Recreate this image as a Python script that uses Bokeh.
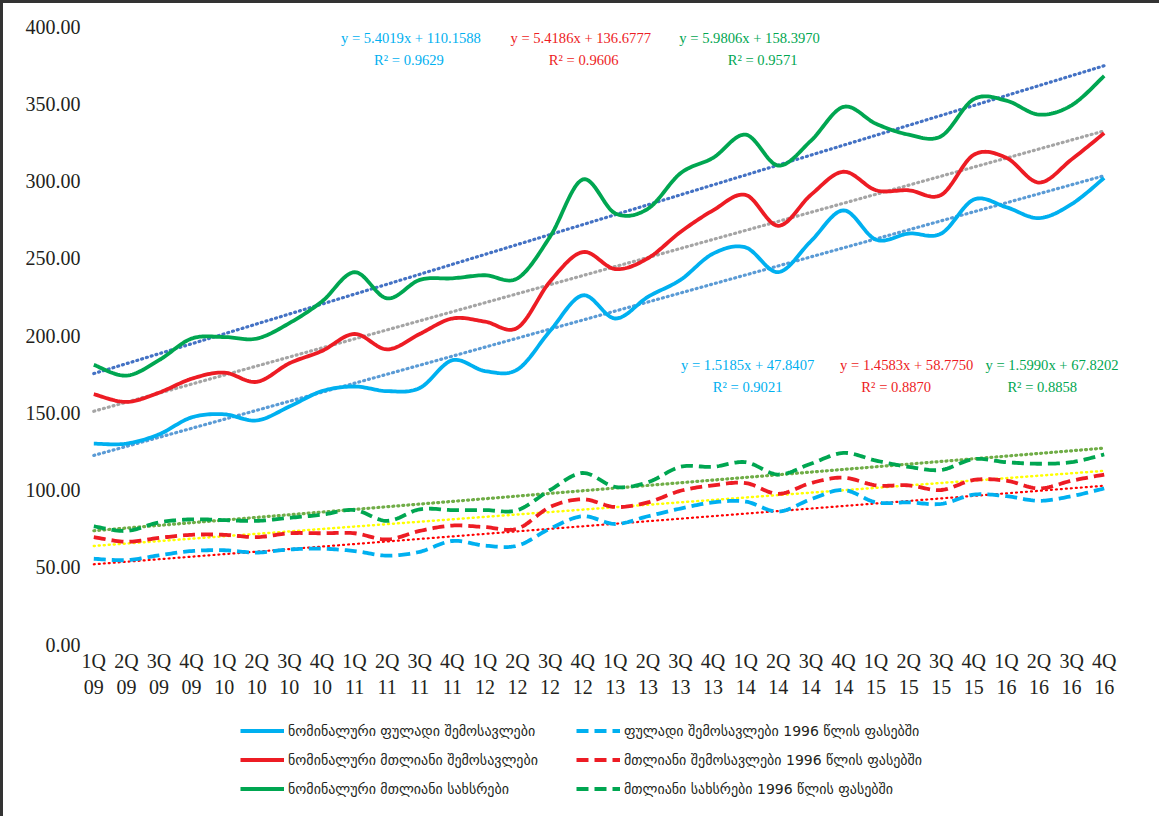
import numpy as np
from bokeh.plotting import figure
from bokeh.layouts import column
from bokeh.models import FixedTicker, NumeralTickFormatter, Legend, LegendItem
from bokeh.core.properties import value
from bokeh.embed import file_html
from bokeh.resources import INLINE

# ---------------- data ----------------
categories = ["1Q 09", "2Q 09", "3Q 09", "4Q 09", "1Q 10", "2Q 10", "3Q 10", "4Q 10",
              "1Q 11", "2Q 11", "3Q 11", "4Q 11", "1Q 12", "2Q 12", "3Q 12", "4Q 12",
              "1Q 13", "2Q 13", "3Q 13", "4Q 13", "1Q 14", "2Q 14", "3Q 14", "4Q 14",
              "1Q 15", "2Q 15", "3Q 15", "4Q 15", "1Q 16", "2Q 16", "3Q 16", "4Q 16"]

nominal_money_income = [130, 130, 136, 147, 149, 145, 154, 164, 167, 164, 166, 184, 177, 178, 203, 226,
                        211, 225, 236, 253, 257, 241, 261, 281, 262, 266, 266, 288, 283, 276, 285, 302]
nominal_total_income = [162, 157, 163, 172, 176, 170, 182, 190, 201, 191, 201, 211, 209, 205, 235, 254,
                        243, 250, 267, 281, 291, 271, 291, 306, 294, 294, 291, 317, 315, 299, 314, 331]
nominal_total_expend = [181, 174, 184, 198, 199, 198, 208, 222, 241, 224, 236, 237, 239, 237, 264, 301,
                        279, 282, 305, 315, 330, 310, 326, 348, 337, 330, 329, 353, 352, 343, 349, 368]
real_money_income = [55.5, 54.6, 57.7, 60.5, 61, 59.5, 61.5, 62, 60.5, 57.5, 60, 67, 64, 64, 75, 83,
                     78, 83, 88, 92, 92.5, 86, 94, 100, 92, 92, 91, 97, 96, 93, 96, 101]
real_total_income = [69.5, 66.5, 69, 71, 71, 69.5, 72, 72, 72, 68, 73.5, 77, 76, 75, 89, 94,
                     89, 92, 99.5, 103, 104.5, 97.5, 104.5, 108, 103, 103, 100, 106.5, 106, 101, 106, 110]
real_total_expend = [76.5, 73.5, 79, 81, 80.5, 80, 82, 84, 87, 80, 87.5, 87, 87, 87, 100, 111,
                     102, 105, 115, 115, 118, 110, 117, 124, 119, 115, 113, 120, 118, 117, 118, 123]

legend_labels = ["ნომინალური ფულადი შემოსავლები",
                 "ნომინალური მთლიანი შემოსავლები",
                 "ნომინალური მთლიანი სახსრები",
                 "ფულადი შემოსავლები 1996 წლის ფასებში",
                 "მთლიანი შემოსავლები 1996 წლის ფასებში",
                 "მთლიანი სახსრები 1996 წლის ფასებში"]

trend_eq_top = ["y = 5.4019x + 110.1588", "y = 5.4186x + 136.6777", "y = 5.9806x + 158.3970"]
trend_r2_top = ["R² = 0.9629", "R² = 0.9606", "R² = 0.9571"]
trend_eq_low = ["y = 1.5185x + 47.8407", "y = 1.4583x + 58.7750", "y = 1.5990x + 67.8202"]
trend_r2_low = ["R² = 0.9021", "R² = 0.8870", "R² = 0.8858"]

BLUE, RED, GREEN = "#00B0F0", "#ED1C24", "#00A651"
SERIF = "Liberation Serif"

x = np.arange(1, len(categories) + 1, dtype=float)


def smooth(xs, ys, n=16):
    """Excel-like smoothed path (Catmull-Rom Bezier) through the data points."""
    xs = np.asarray(xs, float)
    ys = np.asarray(ys, float)
    px = np.concatenate([[xs[0]], xs, [xs[-1]]])
    py = np.concatenate([[ys[0]], ys, [ys[-1]]])
    ox, oy = [], []
    t = np.linspace(0, 1, n, endpoint=False)
    for i in range(1, len(px) - 2):
        p0x, p1x, p2x, p3x = px[i - 1], px[i], px[i + 1], px[i + 2]
        p0y, p1y, p2y, p3y = py[i - 1], py[i], py[i + 1], py[i + 2]
        c1x, c1y = p1x + (p2x - p0x) / 6, p1y + (p2y - p0y) / 6
        c2x, c2y = p2x - (p3x - p1x) / 6, p2y - (p3y - p1y) / 6
        b0, b1, b2, b3 = (1 - t) ** 3, 3 * t * (1 - t) ** 2, 3 * t ** 2 * (1 - t), t ** 3
        ox.extend(b0 * p1x + b1 * c1x + b2 * c2x + b3 * p2x)
        oy.extend(b0 * p1y + b1 * c1y + b2 * c2y + b3 * p2y)
    ox.append(xs[-1])
    oy.append(ys[-1])
    return ox, oy


W = 1156
p = figure(width=W, height=700, output_backend="svg", toolbar_location=None,
           x_range=(0.5, 32.5), y_range=(0, 400),
           min_border_left=74, min_border_right=39, min_border_top=23, min_border_bottom=59)
p.outline_line_color = None
p.background_fill_color = "white"
p.border_fill_color = "white"
p.xgrid.grid_line_color = None
p.ygrid.grid_line_color = None

p.yaxis.ticker = FixedTicker(ticks=list(range(0, 401, 50)))
p.yaxis.formatter = NumeralTickFormatter(format="0.00")
p.xaxis.ticker = FixedTicker(ticks=list(range(1, len(categories) + 1)))
p.xaxis.major_label_overrides = {i + 1: c.replace(" ", "\n") for i, c in enumerate(categories)}
for ax in (p.xaxis[0], p.yaxis[0]):
    ax.axis_line_color = None
    ax.major_tick_line_color = None
    ax.minor_tick_line_color = None
    ax.major_tick_in = 0
    ax.major_tick_out = 0
    ax.major_label_text_font = SERIF
    ax.major_label_text_font_size = "20px"
    ax.major_label_text_color = "#231F20"
p.yaxis.major_label_standoff = -3
p.xaxis.major_label_standoff = 5

# trend lines (linear least squares on each series)
trend_styles = [(nominal_money_income, "#5B9BD5", 3.2),
                (nominal_total_income, "#A5A5A5", 3.2),
                (nominal_total_expend, "#4472C4", 3.2),
                (real_money_income, "#FF0000", 2.2),
                (real_total_income, "#FFFF00", 2.5),
                (real_total_expend, "#70AD47", 3.2)]
for ys, col, w in trend_styles:
    k, b = np.polyfit(x, ys, 1)
    p.line(x=[x[0], x[-1]], y=[k * x[0] + b, k * x[-1] + b], line_color=col,
           line_width=w, line_dash="1 4", line_cap="round")

series = [(nominal_money_income, BLUE, "solid"),
          (nominal_total_income, RED, "solid"),
          (nominal_total_expend, GREEN, "solid"),
          (real_money_income, BLUE, "12 6"),
          (real_total_income, RED, "12 6"),
          (real_total_expend, GREEN, "12 6")]
for ys, col, dash in series:
    sx, sy = smooth(x, ys)
    p.line(x=sx, y=sy, line_color=col, line_width=3.8, line_dash=dash, line_join="round")

# trend equations (text annotations)
cols = [BLUE, RED, GREEN]
eq_top_x, r2_top_x = [10.73, 15.94, 21.12], [10.67, 16.03, 21.52]
eq_low_x, r2_low_x = [21.06, 25.94, 30.40], [21.06, 25.62, 30.10]
for xs_, ys_, texts in ((eq_top_x, 392.4, trend_eq_top), (r2_top_x, 378.4, trend_r2_top),
                        (eq_low_x, 180.7, trend_eq_low), (r2_low_x, 166.7, trend_r2_low)):
    p.text(x=xs_, y=[ys_] * 3, text=texts, text_color=cols,
           text_font=value(SERIF), text_font_size="14.6px",
           text_align="center", text_baseline="middle")

# legend strip (separate figure below the chart, frame aligned with the chart)
pl = figure(width=W, height=113, output_backend="svg", toolbar_location=None,
            x_range=(0, 1), y_range=(0, 1), x_axis_type=None, y_axis_type=None,
            min_border_left=0, min_border_right=0, min_border_top=0, min_border_bottom=0)
pl.outline_line_color = None
pl.xgrid.grid_line_color = None
pl.ygrid.grid_line_color = None
hidden = np.array([np.nan, np.nan])
legend_renderers = [pl.line(x=hidden, y=hidden, line_color=col, line_width=3.8, line_dash=dash)
                    for _, col, dash in series]
legend = Legend(items=[LegendItem(label=legend_labels[i], renderers=[legend_renderers[i]]) for i in range(6)],
                ncols=2, orientation="vertical", location=(163, 13),
                border_line_color=None, background_fill_alpha=0,
                label_text_font="DejaVu Sans", label_text_font_size="14px",
                label_text_color="#231F20", glyph_width=44, glyph_height=29,
                label_height=29, label_width=288, spacing=0, padding=0, margin=0, label_standoff=4)
pl.add_layout(legend)

layout = column(p, pl, spacing=0,
                styles={"border-left": "3px solid #333333", "border-top": "3px solid #333333"})

open("out.html", "w").write(file_html(layout, INLINE))
